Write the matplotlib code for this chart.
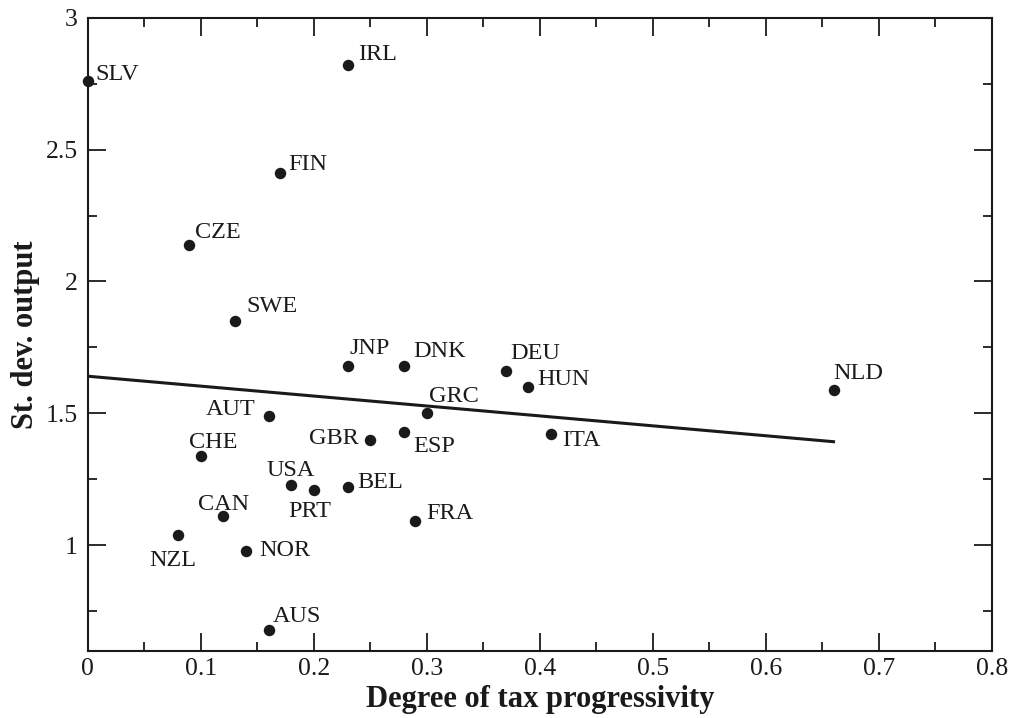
import numpy as np
import matplotlib
matplotlib.use("Agg")
import matplotlib.pyplot as plt
from matplotlib.ticker import MultipleLocator

# data
countries = ["SLV", "IRL", "FIN", "CZE", "SWE", "JNP", "DNK", "DEU", "HUN", "NLD",
             "GRC", "AUT", "ESP", "GBR", "ITA", "CHE", "USA", "PRT", "BEL", "CAN",
             "FRA", "NZL", "NOR", "AUS"]
progressivity = [0.00, 0.23, 0.17, 0.09, 0.13, 0.23, 0.28, 0.37, 0.39, 0.66,
                 0.30, 0.16, 0.28, 0.25, 0.41, 0.10, 0.18, 0.20, 0.23, 0.12,
                 0.29, 0.08, 0.14, 0.16]
output_sd = [2.76, 2.82, 2.41, 2.14, 1.85, 1.68, 1.68, 1.66, 1.60, 1.59,
             1.50, 1.49, 1.43, 1.40, 1.42, 1.34, 1.23, 1.21, 1.22, 1.11,
             1.09, 1.04, 0.98, 0.68]
x_ticks = [0, 0.1, 0.2, 0.3, 0.4, 0.5, 0.6, 0.7, 0.8]
x_ticklabels = ["0", "0.1", "0.2", "0.3", "0.4", "0.5", "0.6", "0.7", "0.8"]
y_ticks = [1, 1.5, 2, 2.5, 3]
y_ticklabels = ["1", "1.5", "2", "2.5", "3"]

# label offsets in pixels (dx, dy), baseline anchored
label_offsets = {
    "SLV": (8, 1), "IRL": (11, 5), "FIN": (8, 3), "CZE": (6, 7), "SWE": (12, 9),
    "JNP": (2, 12), "DNK": (9, 9), "DEU": (4, 12), "HUN": (9, 2), "NLD": (0, 11),
    "GRC": (2, 11), "AUT": (-63, 1), "ESP": (9, -20), "GBR": (-61, -4),
    "ITA": (11, -12), "CHE": (-12, 8), "USA": (-25, 9), "PRT": (-25, -27),
    "BEL": (10, -1), "CAN": (-25, 6), "FRA": (11, 2), "NZL": (-29, -31),
    "NOR": (13, -5), "AUS": (4, 8),
}

plt.rcParams["font.family"] = ["Liberation Serif", "DejaVu Serif"]

fig = plt.figure(figsize=(10.13, 7.18), dpi=100)
ax = fig.add_axes([0.0866, 0.0937, 0.8924, 0.8816])

x = np.array(progressivity)
y = np.array(output_sd)

ax.scatter(x, y, s=68, color="#1a1a1a", zorder=3, clip_on=False, linewidths=0)

# OLS fit line over the observed range
slope, intercept = np.polyfit(x, y, 1)
xs = np.array([0.0, x.max()])
ax.plot(xs, intercept + slope * xs, color="#1a1a1a", lw=2.2)

for name, px, py in zip(countries, progressivity, output_sd):
    dx, dy = label_offsets[name]
    ax.annotate(name, (px, py), xytext=(dx, dy), textcoords="offset pixels",
                ha="left", va="baseline", fontsize=17.5, color="#1a1a1a")

ax.set_xlim(0, 0.8)
ax.set_ylim(0.6, 3.0)
ax.set_xticks(x_ticks)
ax.set_xticklabels(x_ticklabels)
ax.xaxis.set_minor_locator(MultipleLocator(0.05))
ax.set_yticks(y_ticks)
ax.set_yticklabels(y_ticklabels)
ax.yaxis.set_minor_locator(MultipleLocator(0.25))

ax.tick_params(which="both", direction="in", top=True, right=True,
               width=1.3, color="#1a1a1a", labelsize=18.5, labelcolor="#1a1a1a")
ax.tick_params(which="major", length=13)
ax.tick_params(which="minor", length=6.5)
ax.tick_params(axis="x", pad=5)
ax.tick_params(axis="y", pad=7)
for sp in ax.spines.values():
    sp.set_linewidth(1.5)
    sp.set_color("#1a1a1a")

ax.set_xlabel("Degree of tax progressivity", fontsize=22, fontweight="bold",
              color="#1a1a1a", labelpad=4)
ax.set_ylabel("St. dev. output", fontsize=22, fontweight="bold",
              color="#1a1a1a", labelpad=4)

fig.savefig("out.png", dpi=100)
